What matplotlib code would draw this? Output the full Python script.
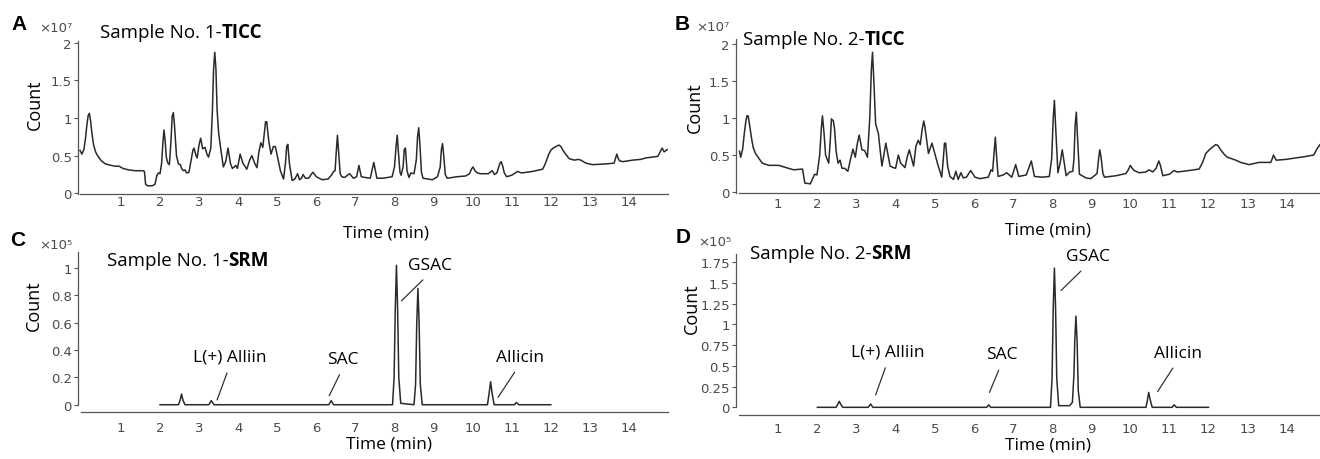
import matplotlib
matplotlib.use("Agg")
from matplotlib import pyplot as plt

# total ion current chromatograms, time in min, count in units of 1e7
tic1_time = [-0.05, 0.0, 0.05, 0.09, 0.13, 0.16, 0.19, 0.22, 0.26, 0.30, 0.35, 0.40, 0.50, 0.60, 0.75, 0.85,
             0.95, 1.05, 1.20, 1.36, 1.57, 1.60, 1.63, 1.68, 1.80, 1.87, 1.92, 1.96, 2.00, 2.04, 2.07, 2.10,
             2.13, 2.16, 2.20, 2.24, 2.28, 2.31, 2.34, 2.37, 2.42, 2.47, 2.52, 2.56, 2.60, 2.64, 2.68, 2.74,
             2.80, 2.84, 2.87, 2.92, 2.95, 3.00, 3.04, 3.09, 3.15, 3.20, 3.24, 3.30, 3.34, 3.37, 3.40, 3.43,
             3.46, 3.50, 3.55, 3.62, 3.68, 3.74, 3.80, 3.85, 3.90, 3.94, 3.98, 4.05, 4.12, 4.22, 4.30, 4.35,
             4.42, 4.48, 4.53, 4.58, 4.63, 4.67, 4.70, 4.73, 4.78, 4.84, 4.90, 4.95, 5.00, 5.08, 5.16, 5.21,
             5.24, 5.27, 5.31, 5.38, 5.45, 5.52, 5.57, 5.62, 5.66, 5.72, 5.80, 5.91, 6.00, 6.15, 6.30, 6.40,
             6.44, 6.48, 6.51, 6.54, 6.57, 6.61, 6.65, 6.72, 6.85, 6.95, 7.03, 7.09, 7.15, 7.25, 7.38, 7.47,
             7.55, 7.70, 7.94, 8.00, 8.04, 8.07, 8.10, 8.14, 8.17, 8.22, 8.25, 8.28, 8.32, 8.37, 8.42, 8.50,
             8.56, 8.59, 8.62, 8.65, 8.69, 8.73, 8.85, 8.97, 9.10, 9.17, 9.20, 9.23, 9.26, 9.30, 9.35, 9.60,
             9.82, 9.92, 9.97, 10.01, 10.06, 10.12, 10.20, 10.40, 10.50, 10.56, 10.62, 10.67, 10.70, 10.73,
             10.77, 10.81, 10.87, 11.00, 11.15, 11.25, 11.53, 11.79, 11.85, 11.90, 11.95, 12.00, 12.06, 12.13,
             12.21, 12.26, 12.30, 12.38, 12.47, 12.60, 12.70, 12.77, 12.90, 13.07, 13.41, 13.62, 13.66, 13.69,
             13.72, 13.76, 13.85, 14.09, 14.30, 14.44, 14.60, 14.74, 14.80, 14.85, 14.90, 14.98]
tic1_count = [0.57, 0.52, 0.58, 0.72, 0.92, 1.03, 1.06, 0.97, 0.78, 0.64, 0.55, 0.50, 0.43, 0.39, 0.37, 0.36,
              0.36, 0.33, 0.31, 0.30, 0.30, 0.29, 0.12, 0.10, 0.10, 0.12, 0.24, 0.27, 0.26, 0.40, 0.65, 0.84,
              0.70, 0.48, 0.40, 0.38, 0.70, 1.02, 1.07, 0.90, 0.50, 0.39, 0.38, 0.32, 0.30, 0.31, 0.27, 0.28,
              0.45, 0.57, 0.60, 0.50, 0.47, 0.65, 0.73, 0.59, 0.61, 0.52, 0.48, 0.60, 1.10, 1.65, 1.87, 1.65,
              1.10, 0.80, 0.60, 0.35, 0.42, 0.60, 0.40, 0.33, 0.35, 0.37, 0.33, 0.52, 0.40, 0.32, 0.45, 0.50,
              0.40, 0.34, 0.55, 0.67, 0.61, 0.80, 0.95, 0.95, 0.70, 0.52, 0.62, 0.62, 0.50, 0.30, 0.19, 0.40,
              0.62, 0.65, 0.40, 0.17, 0.19, 0.26, 0.18, 0.20, 0.25, 0.20, 0.20, 0.28, 0.22, 0.18, 0.19, 0.25,
              0.29, 0.30, 0.55, 0.77, 0.55, 0.26, 0.22, 0.21, 0.26, 0.20, 0.22, 0.37, 0.22, 0.21, 0.20, 0.41,
              0.20, 0.20, 0.22, 0.35, 0.62, 0.77, 0.55, 0.28, 0.24, 0.35, 0.58, 0.60, 0.30, 0.21, 0.27, 0.26,
              0.45, 0.75, 0.87, 0.65, 0.28, 0.20, 0.19, 0.18, 0.22, 0.35, 0.58, 0.66, 0.50, 0.25, 0.20, 0.22,
              0.23, 0.26, 0.32, 0.35, 0.30, 0.27, 0.26, 0.26, 0.30, 0.25, 0.27, 0.35, 0.40, 0.42,
              0.36, 0.27, 0.22, 0.24, 0.29, 0.27, 0.29, 0.32, 0.38, 0.45, 0.52, 0.57, 0.60, 0.62,
              0.64, 0.62, 0.58, 0.52, 0.46, 0.44, 0.45, 0.44, 0.40, 0.38, 0.39, 0.40, 0.47, 0.52,
              0.47, 0.43, 0.42, 0.44, 0.45, 0.47, 0.48, 0.49, 0.55, 0.60, 0.55, 0.58]

tic2_time = [0.01, 0.04, 0.09, 0.13, 0.17, 0.20, 0.23, 0.27, 0.31, 0.36, 0.42, 0.59, 0.76, 1.01, 1.27, 1.39,
             1.62, 1.68, 1.82, 1.93, 1.99, 2.06, 2.10, 2.13, 2.17, 2.21, 2.29, 2.33, 2.36, 2.41, 2.44, 2.48,
             2.53, 2.58, 2.63, 2.70, 2.78, 2.85, 2.91, 2.97, 3.02, 3.07, 3.14, 3.21, 3.28, 3.34, 3.38, 3.41,
             3.44, 3.49, 3.56, 3.65, 3.70, 3.75, 3.86, 3.94, 4.00, 4.07, 4.13, 4.24, 4.30, 4.35, 4.46, 4.52,
             4.58, 4.63, 4.68, 4.72, 4.75, 4.84, 4.93, 5.09, 5.18, 5.22, 5.25, 5.28, 5.33, 5.39, 5.48, 5.54,
             5.60, 5.67, 5.73, 5.81, 5.92, 6.03, 6.16, 6.37, 6.44, 6.48, 6.52, 6.55, 6.58, 6.62, 6.75, 6.84,
             6.97, 7.07, 7.15, 7.34, 7.47, 7.55, 7.75, 7.93, 7.99, 8.03, 8.06, 8.09, 8.15, 8.21, 8.26, 8.31,
             8.36, 8.45, 8.53, 8.56, 8.59, 8.62, 8.65, 8.70, 8.87, 8.99, 9.15, 9.19, 9.22, 9.25, 9.30, 9.34,
             9.64, 9.89, 9.95, 10.00, 10.05, 10.10, 10.23, 10.40, 10.48, 10.57, 10.66, 10.70, 10.73, 10.77,
             10.83, 11.00, 11.12, 11.20, 11.50, 11.76, 11.85, 11.93, 12.00, 12.06, 12.18, 12.24, 12.31, 12.40,
             12.48, 12.70, 12.82, 13.04, 13.29, 13.59, 13.63, 13.66, 13.70, 13.73, 13.97, 14.23, 14.48, 14.69,
             14.78, 14.85]
tic2_count = [0.55, 0.47, 0.58, 0.78, 0.95, 1.03, 1.03, 0.90, 0.75, 0.60, 0.52, 0.39, 0.36, 0.36, 0.32, 0.30,
              0.31, 0.12, 0.11, 0.24, 0.23, 0.50, 0.85, 1.03, 0.80, 0.50, 0.39, 0.70, 0.99, 0.96, 0.85, 0.55,
              0.39, 0.43, 0.32, 0.32, 0.28, 0.45, 0.58, 0.47, 0.65, 0.77, 0.57, 0.56, 0.47, 1.00, 1.65, 1.89,
              1.55, 0.92, 0.79, 0.35, 0.50, 0.66, 0.35, 0.33, 0.32, 0.50, 0.39, 0.33, 0.48, 0.57, 0.35, 0.62,
              0.70, 0.64, 0.85, 0.96, 0.88, 0.52, 0.66, 0.35, 0.20, 0.45, 0.66, 0.66, 0.35, 0.21, 0.17, 0.28,
              0.17, 0.26, 0.19, 0.20, 0.29, 0.20, 0.18, 0.20, 0.30, 0.28, 0.55, 0.74, 0.50, 0.21, 0.23, 0.26,
              0.20, 0.37, 0.21, 0.23, 0.42, 0.21, 0.20, 0.21, 0.45, 1.00, 1.24, 0.90, 0.26, 0.40, 0.57, 0.40,
              0.22, 0.27, 0.28, 0.45, 0.90, 1.08, 0.75, 0.24, 0.19, 0.18, 0.25, 0.45, 0.57, 0.48, 0.25, 0.20,
              0.22, 0.25, 0.30, 0.36, 0.32, 0.29, 0.26, 0.27, 0.30, 0.27, 0.32, 0.38, 0.42, 0.36,
              0.22, 0.24, 0.29, 0.27, 0.29, 0.31, 0.40, 0.52, 0.56, 0.59, 0.64, 0.63, 0.57, 0.51,
              0.47, 0.43, 0.40, 0.37, 0.40, 0.40, 0.45, 0.50, 0.46, 0.43, 0.44, 0.46, 0.48, 0.50,
              0.59, 0.64]

# selected reaction monitoring, count in units of 1e5
srm1_time = [2.00, 2.47, 2.51, 2.55, 2.59, 2.64, 3.25, 3.31, 3.38, 6.32, 6.38, 6.44, 7.95, 7.99, 8.02, 8.05,
             8.08, 8.11, 8.16, 8.50, 8.54, 8.57, 8.60, 8.63, 8.66, 8.71, 10.38, 10.42, 10.46, 10.50, 10.55,
             11.07, 11.12, 11.18, 12.00]
srm1_count = [0.0, 0.0, 0.03, 0.078, 0.03, 0.0, 0.0, 0.03, 0.0, 0.0, 0.03, 0.0, 0.0, 0.2, 0.7, 1.02,
              0.7, 0.2, 0.01, 0.0, 0.15, 0.6, 0.85, 0.6, 0.15, 0.0, 0.0, 0.08, 0.168, 0.08, 0.0,
              0.0, 0.017, 0.0, 0.0]
srm2_time = [2.00, 2.48, 2.52, 2.56, 2.60, 2.65, 3.30, 3.36, 3.42, 6.33, 6.38, 6.43, 7.96, 8.00, 8.03, 8.06,
             8.09, 8.12, 8.17, 8.45, 8.52, 8.56, 8.58, 8.61, 8.64, 8.67, 8.72, 10.40, 10.44, 10.47, 10.51,
             10.56, 11.07, 11.12, 11.18, 12.00]
srm2_count = [0.0, 0.0, 0.035, 0.072, 0.035, 0.0, 0.0, 0.04, 0.0, 0.0, 0.03, 0.0, 0.0, 0.35, 1.2, 1.68,
              1.2, 0.35, 0.02, 0.02, 0.06, 0.4, 0.8, 1.10, 0.8, 0.2, 0.0, 0.0, 0.09, 0.18, 0.09,
              0.0, 0.0, 0.03, 0.0, 0.0]

time_ticks = list(range(1, 15))
tic_ticks = [0, 0.5, 1, 1.5, 2]
tic_labels = ["0", "0.5", "1", "1.5", "2"]
srm1_ticks = [0, 0.2, 0.4, 0.6, 0.8, 1]
srm1_labels = ["0", "0.2", "0.4", "0.6", "0.8", "1"]
srm2_ticks = [0, 0.25, 0.5, 0.75, 1, 1.25, 1.5, 1.75]
srm2_labels = ["0", "0.25", "0.5", "0.75", "1", "1.25", "1.5", "1.75"]

W, H = 1320, 460
LABEL_FONT = "Open Sans"
TICK_FONT = "DejaVu Sans"
LINE_COLOR = "#2a2a2a"
AXIS_COLOR = "#555555"
TICK_COLOR = "#4a4a4a"


def pixelBox(left, top, right, bottom):
    return [left / W, 1 - bottom / H, (right - left) / W, (bottom - top) / H]


def styleAxis(axis, xlim, ylim, yticks, ylabels, xbounds, ybounds, xpad, xlabelPos, ylabelPos):
    axis.set_xlim(xlim)
    axis.set_ylim(ylim)
    for side in ["top", "right"]:
        axis.spines[side].set_visible(False)
    for side in ["left", "bottom"]:
        axis.spines[side].set_color(AXIS_COLOR)
        axis.spines[side].set_linewidth(0.9)
    axis.spines["bottom"].set_bounds(*xbounds)
    axis.spines["left"].set_bounds(*ybounds)
    axis.set_xticks(time_ticks)
    axis.set_xticklabels([str(t) for t in time_ticks])
    axis.set_yticks(yticks)
    axis.set_yticklabels(ylabels)
    axis.tick_params(axis="x", length=0, pad=xpad, labelsize=9.5, labelcolor=TICK_COLOR)
    axis.tick_params(axis="y", length=3, width=0.8, color=AXIS_COLOR, pad=1.5,
                     labelsize=9.5, labelcolor=TICK_COLOR)
    for label in axis.get_xticklabels() + axis.get_yticklabels():
        label.set_fontfamily(TICK_FONT)
    axis.set_xlabel("Time (min)", fontsize=12.5, fontfamily=LABEL_FONT)
    axis.set_ylabel("Count", fontsize=13, fontfamily=LABEL_FONT)
    axis.xaxis.set_label_coords(*xlabelPos)
    axis.yaxis.set_label_coords(*ylabelPos)


def panelTexts(fig, letter, letterPos, scale, scalePos, sample, mode, titlePos):
    fig.text(letterPos[0] / W, 1 - letterPos[1] / H, letter, fontsize=15, fontweight="bold",
             fontfamily="Liberation Sans", ha="center", va="center")
    fig.text(scalePos[0] / W, 1 - scalePos[1] / H, scale, fontsize=9.5, color=TICK_COLOR,
             fontfamily=TICK_FONT, ha="left", va="center")
    first = fig.text(titlePos[0] / W, 1 - titlePos[1] / H, sample, fontsize=13.5,
                     fontfamily=LABEL_FONT, ha="left", va="baseline")
    # put the bold part right after the normal part
    renderer = fig.canvas.get_renderer()
    extent = first.get_window_extent(renderer)
    fig.text(extent.x1 / W, 1 - titlePos[1] / H, mode, fontsize=13.5, fontweight="bold",
             fontfamily=LABEL_FONT, ha="left", va="baseline")


def peakLabel(axis, text, tip, textPos):
    axis.annotate(text, xy=tip, xytext=textPos, fontsize=12.5, fontfamily=LABEL_FONT,
                  ha="center", va="center",
                  arrowprops=dict(arrowstyle="-", color="#333333", lw=0.9, relpos=(0.5, 0),
                                  shrinkA=4, shrinkB=0))


fig = plt.figure(figsize=(W / 100, H / 100), dpi=100)

axA = fig.add_axes(pixelBox(78, 42, 668, 194.7))
axA.plot(tic1_time, tic1_count, color=LINE_COLOR, lw=1.1)
styleAxis(axA, (-0.1, 15.0), (-0.005, 2.02), tic_ticks, tic_labels,
          (-0.05, 15.0), (-0.005, 2.02), 1.0, (0.522, -0.2), (-0.057, 0.587))

axB = fig.add_axes(pixelBox(736, 40, 1320, 193.7))
axB.plot(tic2_time, tic2_count, color=LINE_COLOR, lw=1.1)
styleAxis(axB, (-0.08, 14.85), (-0.01, 2.07), tic_ticks, tic_labels,
          (0.0, 14.85), (-0.01, 2.07), 3.0, (0.534, -0.185), (-0.055, 0.558))

axC = fig.add_axes(pixelBox(78, 253, 668, 412.7))
axC.plot(srm1_time, srm1_count, color=LINE_COLOR, lw=1.1)
styleAxis(axC, (-0.1, 15.0), (-0.051, 1.117), srm1_ticks, srm1_labels,
          (-0.03, 15.0), (0, 1.117), 6.5, (0.527, -0.152), (-0.059, 0.668))

axD = fig.add_axes(pixelBox(736, 255, 1320, 415.7))
axD.plot(srm2_time, srm2_count, color=LINE_COLOR, lw=1.1)
styleAxis(axD, (-0.08, 14.85), (-0.089, 1.85), srm2_ticks, srm2_labels,
          (0.0, 14.85), (0, 1.85), 5, (0.535, -0.133), (-0.060, 0.664))

panelTexts(fig, "A", (19, 25), "\u00d710\u2077", (39, 29), "Sample No. 1-", "TICC", (100, 38))
panelTexts(fig, "B", (682, 25), "\u00d710\u2077", (696, 27.5), "Sample No. 2-", "TICC", (743, 45))
panelTexts(fig, "C", (18, 241), "\u00d710\u2075", (39, 246), "Sample No. 1-", "SRM", (107, 266))
panelTexts(fig, "D", (683, 238), "\u00d710\u2075", (698, 243), "Sample No. 2-", "SRM", (750, 259))

peakLabel(axC, "L(+) Alliin", (3.46, 0.035), (3.79, 0.35))
peakLabel(axC, "SAC", (6.33, 0.066), (6.69, 0.335))
peakLabel(axC, "GSAC", (8.18, 0.76), (8.9, 1.02))
peakLabel(axC, "Allicin", (10.65, 0.054), (11.2, 0.35))

peakLabel(axD, "L(+) Alliin", (3.49, 0.15), (3.81, 0.67))
peakLabel(axD, "SAC", (6.40, 0.18), (6.72, 0.64))
peakLabel(axD, "GSAC", (8.23, 1.41), (8.91, 1.82))
peakLabel(axD, "Allicin", (10.7, 0.19), (11.21, 0.66))

fig.savefig("out.png", dpi=100)
